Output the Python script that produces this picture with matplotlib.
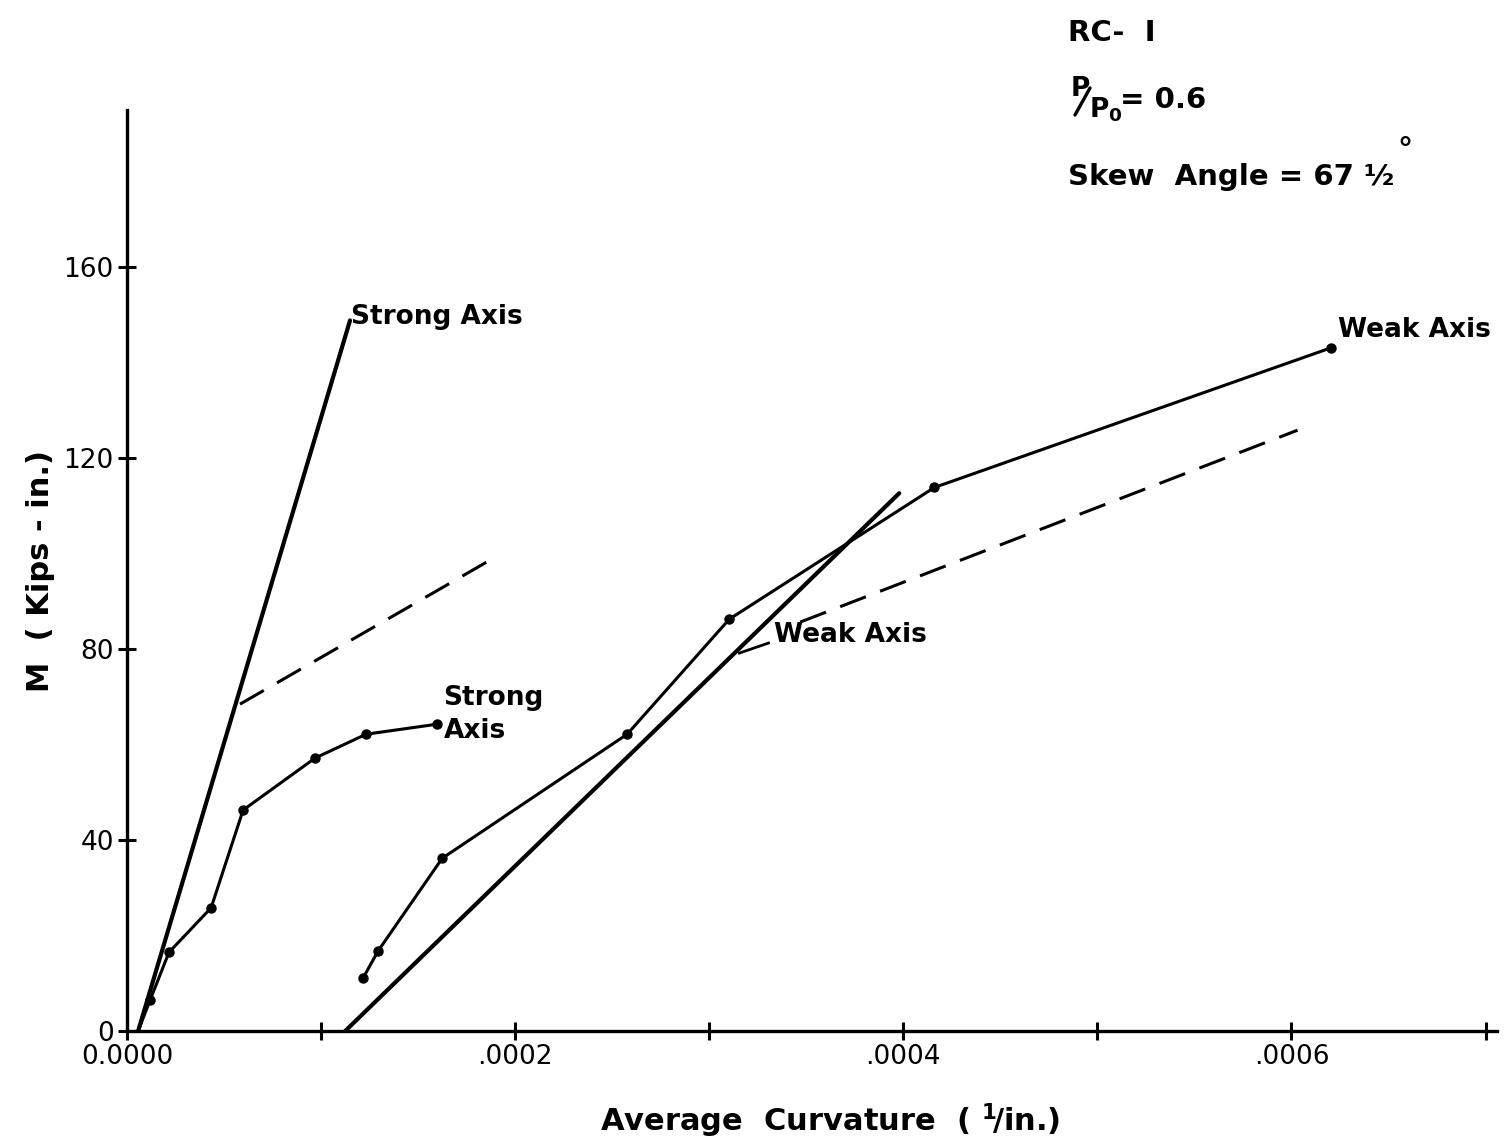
import matplotlib
matplotlib.use("Agg")
import matplotlib.pyplot as plt
from matplotlib.lines import Line2D
from matplotlib.ticker import FixedLocator

plt.rcParams['font.family'] = ['DejaVu Sans']
plt.rcParams['mathtext.fontset'] = 'dejavusans'
plt.rcParams['mathtext.default'] = 'bf'

# measured moment-curvature, strong axis (curvature 1/in., moment kip-in.)
strong_test_x = [0.0000057, 0.0000119, 0.0000216, 0.0000433, 0.0000598, 0.0000969, 0.0001232, 0.0001598]
strong_test_y = [0.0, 6.5, 16.5, 25.8, 46.3, 57.2, 62.2, 64.3]

# measured moment-curvature, weak axis
weak_test_x = [0.0001216, 0.0001294, 0.0001624, 0.0002577, 0.0003103, 0.0004160, 0.0006206]
weak_test_y = [11.1, 16.8, 36.2, 62.2, 86.3, 113.9, 143.2]

# computed elastic lines
strong_calc_x = [0.0000057, 0.0001149]
strong_calc_y = [0.0, 148.9]
weak_calc_x = [0.0001124, 0.0003979]
weak_calc_y = [0.0, 112.7]

# computed post-cracking (dashed) lines
strong_dash_x = [0.0000582, 0.0001897]
strong_dash_y = [68.5, 99.3]
weak_dash_x = [0.0003469, 0.0006031]
weak_dash_y = [85.7, 125.9]

x_ticks = [0.0, 0.0001, 0.0002, 0.0003, 0.0004, 0.0005, 0.0006, 0.0007]
x_labels = ["0.0000", "", ".0002", "", ".0004", "", ".0006", ""]
y_ticks = [0, 40, 80, 120, 160]
y_labels = ["0", "40", "80", "120", "160"]

W, H = 1507, 1147
fig = plt.figure(figsize=(W / 100, H / 100), dpi=100)
ax = fig.add_axes([0.0843, 0.1011, 0.9092, 0.803])

ax.plot(strong_calc_x, strong_calc_y, color='black', lw=3.0, solid_capstyle='round')
ax.plot(weak_calc_x, weak_calc_y, color='black', lw=3.0, solid_capstyle='round')
ax.plot(strong_test_x, strong_test_y, color='black', lw=2.2, marker='o', ms=6.5,
        markevery=list(range(1, len(strong_test_x))))
ax.plot(weak_test_x, weak_test_y, color='black', lw=2.2, marker='o', ms=6.5)
ax.plot(strong_dash_x, strong_dash_y, color='black', lw=2.2, dashes=(9, 5))
ax.plot(weak_dash_x, weak_dash_y, color='black', lw=2.2, dashes=(9, 5))

# leader from the middle weak-axis label
ax.plot([0.0003155, 0.0003305], [79.2, 81.3], color='black', lw=2.0)

lab = dict(fontsize=19, fontweight='bold', color='black')
ax.text(0.0001155, 149.7, "Strong Axis", ha='left', va='center', **lab)
ax.text(0.0001630, 66.4, "Strong\nAxis", ha='left', va='center', linespacing=1.35, **lab)
ax.text(0.0003335, 83.0, "Weak Axis", ha='left', va='center', **lab)
ax.text(0.0006240, 146.8, "Weak Axis", ha='left', va='center', **lab)

ax.set_xlim(0, 0.000706)
ax.set_ylim(0, 193)

ax.xaxis.set_major_locator(FixedLocator(x_ticks))
ax.set_xticklabels(x_labels)
ax.yaxis.set_major_locator(FixedLocator(y_ticks))
ax.set_yticklabels(y_labels)
ax.tick_params(direction='inout', length=13, width=2.2, labelsize=19, pad=3)

for s in ['top', 'right']:
    ax.spines[s].set_visible(False)
for s in ['left', 'bottom']:
    ax.spines[s].set_linewidth(2.4)

ax.set_xlabel("Average  Curvature  ( $^1\\!/$in.)", fontsize=22, fontweight='bold')
ax.xaxis.set_label_coords(0.513, -0.077)
ax.set_ylabel("M  ( Kips - in.)", fontsize=22, fontweight='bold', labelpad=6)


def px_text(x, y, s, size, **kw):
    # place text by pixel position from the top-left corner
    fig.text(x / W, 1 - y / H, s, fontsize=size, fontweight='bold', **kw)


px_text(1068, 33, "RC-  I", 21, va='center', ha='left')
# P/Po written as a stacked ratio with a drawn slash
px_text(1071, 89, "P", 19, va='center', ha='left')
px_text(1089, 110, "$P_0$", 19, va='center', ha='left')
fig.add_artist(Line2D([1075 / W, 1090 / W], [1 - 115 / H, 1 - 88 / H], color='black', lw=2.4,
                      solid_capstyle='round'))
px_text(1120, 100, "= 0.6", 21, va='center', ha='left')
px_text(1068, 177, "Skew  Angle = 67 ½", 21, va='center', ha='left')
px_text(1397, 150, "°", 22, va='center', ha='left')

fig.savefig("out.png", dpi=100, facecolor='white')
